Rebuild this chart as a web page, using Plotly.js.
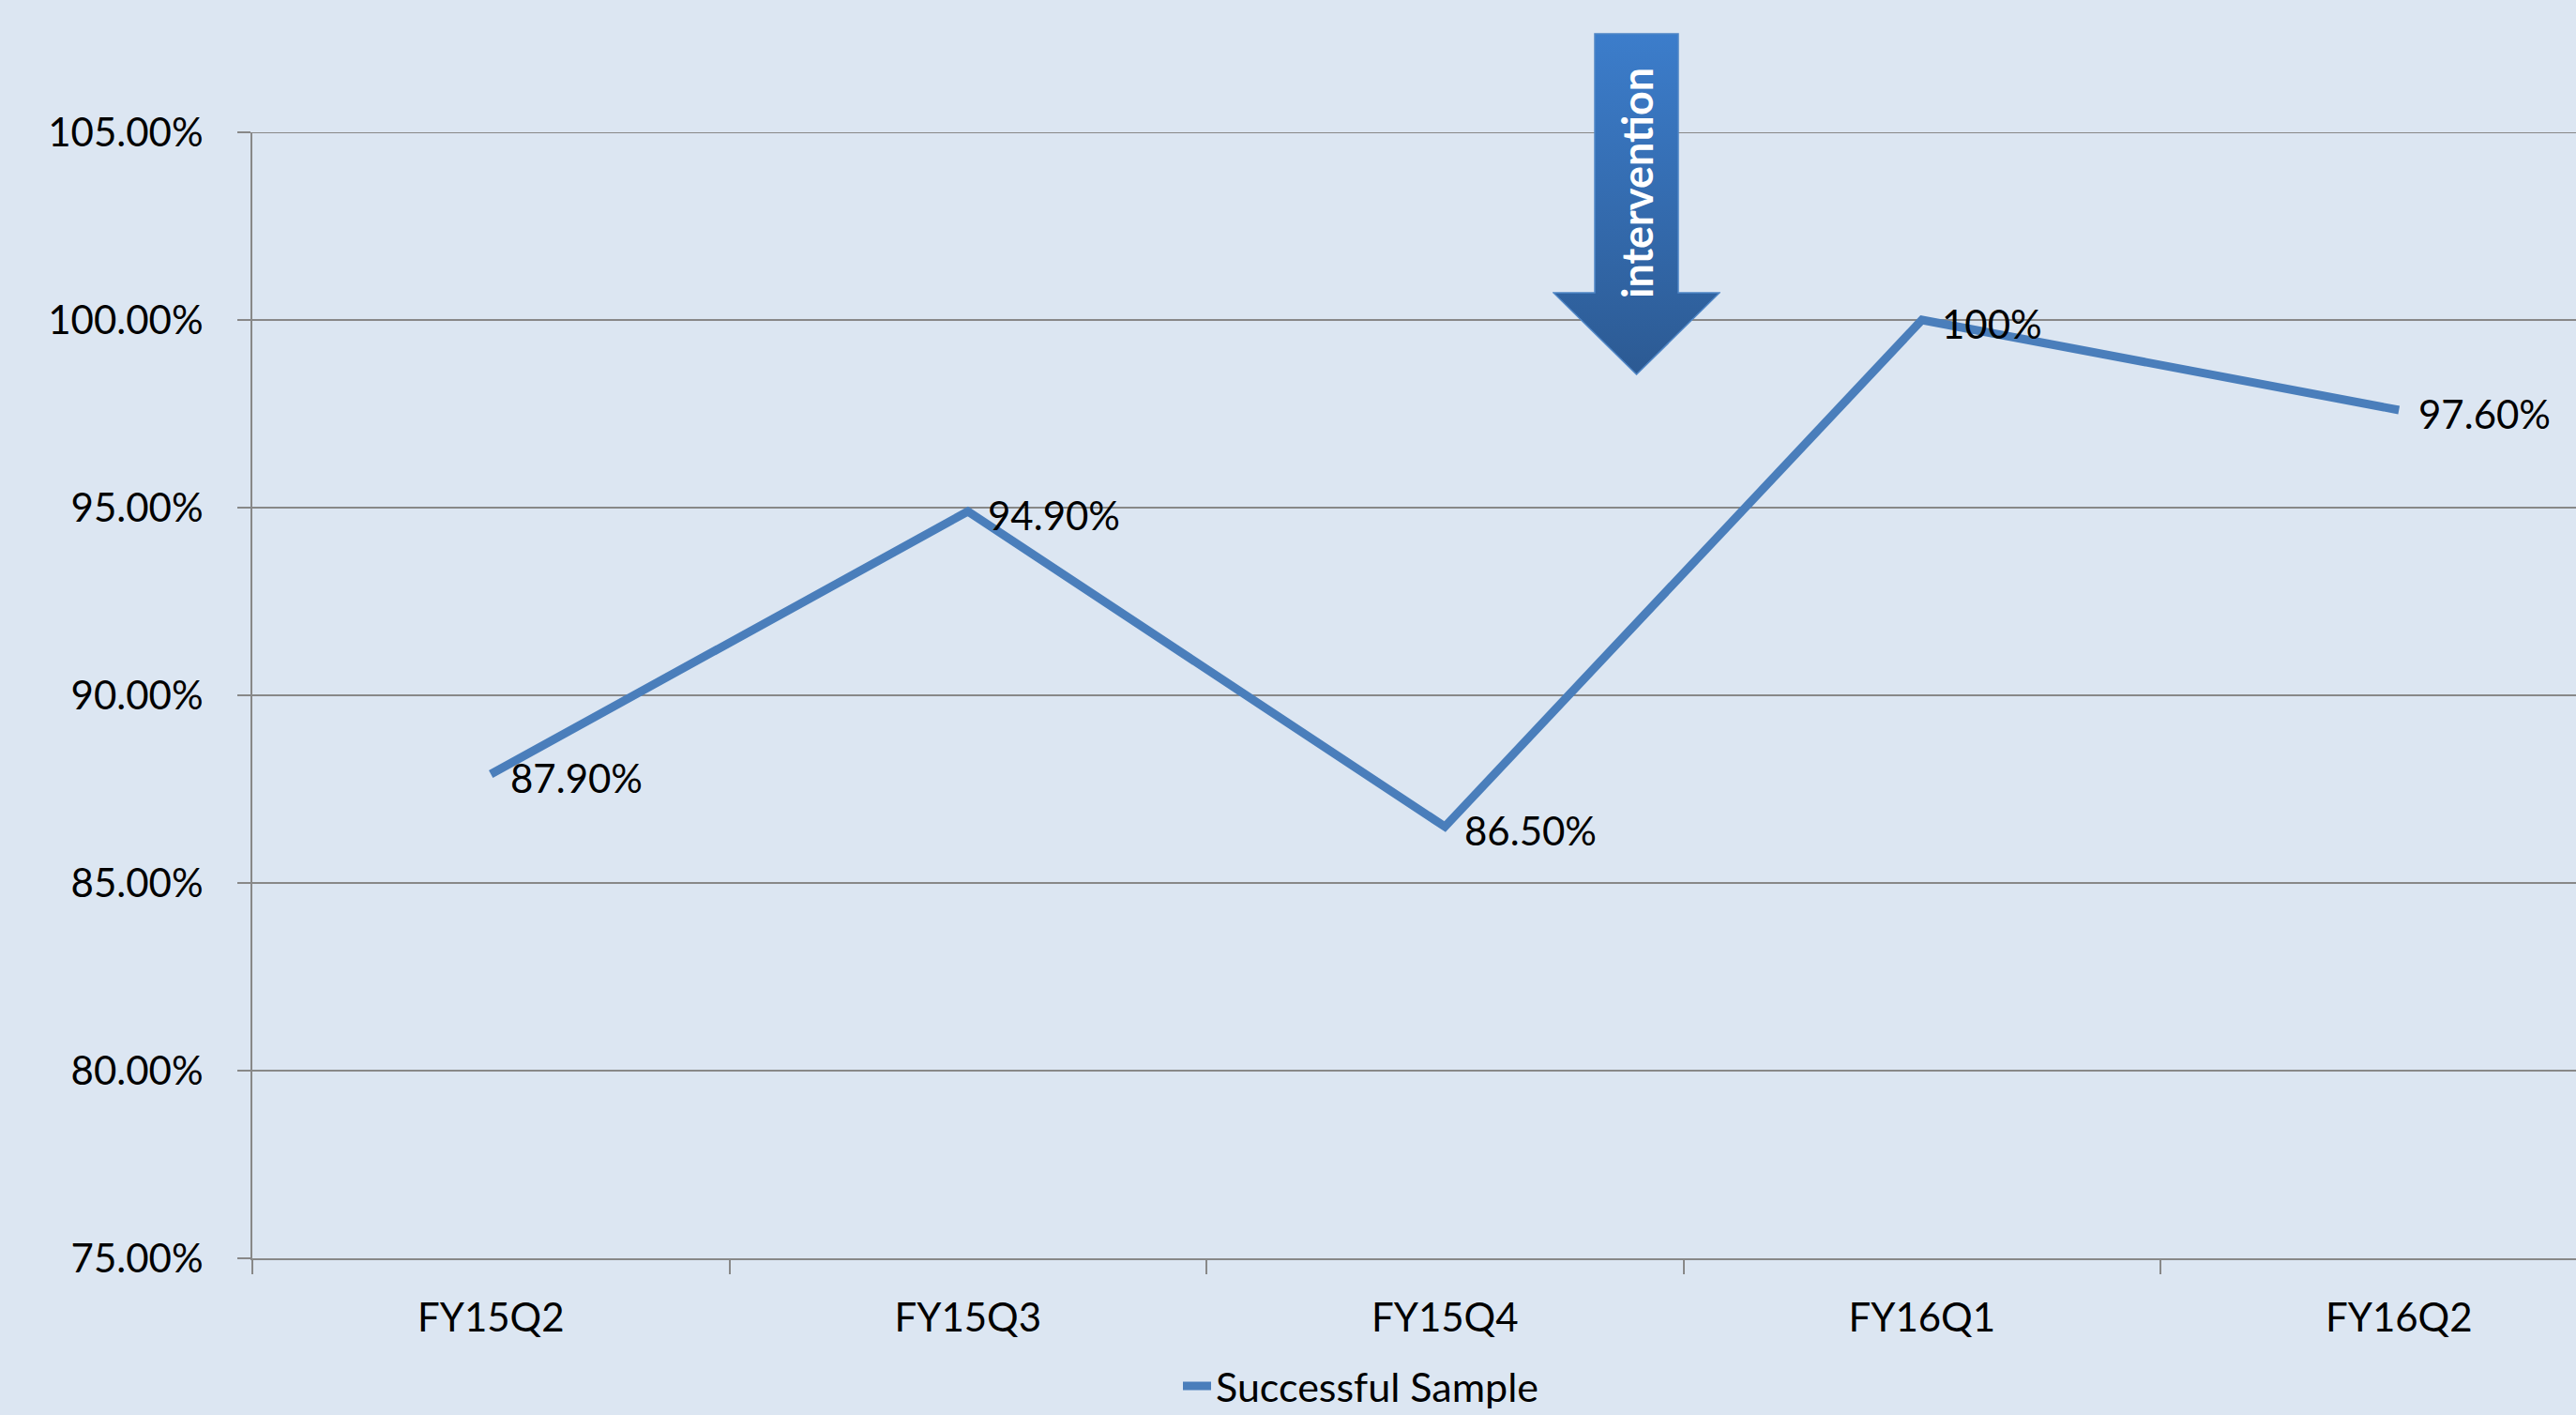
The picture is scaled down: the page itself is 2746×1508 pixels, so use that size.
<!DOCTYPE html>
<html>
<head>
<meta charset="utf-8">
<script src="https://cdn.plot.ly/plotly-3.0.1.min.js"></script>
<style>
  html, body { margin: 0; padding: 0; background: #DCE6F2; }
  #chart { width: 2746px; height: 1508px; }
</style>
</head>
<body>
<div id="chart"></div>
<script>
// ---- data ----
const categories = ['FY15Q2', 'FY15Q3', 'FY15Q4', 'FY16Q1', 'FY16Q2'];
const successRate = [87.9, 94.9, 86.5, 100, 97.6];
const dataLabels = ['87.90%', '94.90%', '86.50%', '100%', '97.60%'];
const seriesName = 'Successful Sample';
const markerText = 'intervention';

// ---- styles ----
const FONT = 'Lato, "Open Sans", "DejaVu Sans", sans-serif';
const BG = '#DCE6F2';
const GRID = '#888888';
const LINE = '#4A7EBB';

const W = 2746, H = 1508;
const plotL = 269, plotT = 141, plotB = 1341, plotR = W;
const px2paperX = px => (px - plotL) / (plotR - plotL);
const px2paperY = py => (plotB - py) / (plotB - plotT);

const trace = {
  type: 'scatter',
  mode: 'lines',
  x: categories,
  y: successRate,
  name: seriesName,
  line: { color: LINE, width: 9 },
  hoverinfo: 'x+y'
};

const labelAnnotations = categories.map((c, i) => ({
  x: c, y: successRate[i], xref: 'x', yref: 'y',
  text: dataLabels[i], showarrow: false,
  xanchor: 'left', yanchor: 'middle',
  xshift: 19, yshift: -4,
  font: { family: FONT, size: 42, color: '#000000' }
}));

// arrow graphic (decoration) as an inline SVG image with a vertical gradient
const arrowSvg =
  '<svg xmlns="http://www.w3.org/2000/svg" width="179" height="365" viewBox="0 0 179 365" preserveAspectRatio="none">' +
  '<defs><linearGradient id="g" x1="0" y1="0" x2="0" y2="1">' +
  '<stop offset="0" stop-color="#3C7DCB"/><stop offset="1" stop-color="#2C5A93"/>' +
  '</linearGradient></defs>' +
  '<path d="M45,1 L134,1 L134,277 L178,277 L89.5,364 L1,277 L45,277 Z" fill="url(#g)" stroke="#4F86C6" stroke-width="1.5"/>' +
  '</svg>';
const arrowSrc = 'data:image/svg+xml;charset=utf-8,' + encodeURIComponent(arrowSvg);

const layout = {
  width: W, height: H,
  paper_bgcolor: BG, plot_bgcolor: BG,
  margin: { l: plotL, r: 0, t: plotT, b: H - plotB, autoexpand: false },
  font: { family: FONT, size: 42, color: '#000000' },
  showlegend: true,
  legend: {
    orientation: 'h',
    x: px2paperX(1256), xanchor: 'left',
    y: px2paperY(1477), yanchor: 'middle',
    bgcolor: 'rgba(0,0,0,0)',
    font: { family: FONT, size: 43, color: '#000000' }
  },
  xaxis: {
    type: 'category',
    range: [-0.5, -0.5 + (plotR - plotL) / 508.5],
    showgrid: false, zeroline: false,
    showline: true, linecolor: GRID, linewidth: 2,
    ticks: 'outside', ticklen: 15, tickcolor: GRID, tickwidth: 2,
    tickson: 'boundaries',
    ticklabelstandoff: 26,
    tickfont: { family: FONT, size: 42, color: '#000000' },
    fixedrange: true
  },
  yaxis: {
    range: [75, 105],
    dtick: 5, tick0: 75,
    tickformat: '.2f', ticksuffix: '%',
    showgrid: true, gridcolor: GRID, gridwidth: 2,
    zeroline: false,
    showline: true, linecolor: GRID, linewidth: 2,
    ticks: 'outside', ticklen: 14, tickcolor: GRID, tickwidth: 2,
    ticklabelstandoff: 28,
    tickfont: { family: FONT, size: 42, color: '#000000' },
    fixedrange: true
  },
  images: [{
    source: arrowSrc,
    xref: 'paper', yref: 'paper',
    x: px2paperX(1655), y: px2paperY(35),
    sizex: 179 / (plotR - plotL), sizey: 365 / (plotB - plotT),
    xanchor: 'left', yanchor: 'top',
    sizing: 'stretch', layer: 'above'
  }],
  annotations: labelAnnotations.concat([{
    xref: 'paper', yref: 'paper',
    x: px2paperX(1745), y: px2paperY(195),
    text: markerText, showarrow: false, textangle: -90,
    xanchor: 'center', yanchor: 'middle',
    font: { family: FONT, size: 45, color: '#FFFFFF', weight: 'bold' }
  }]),
  shapes: [{
    type: 'line', xref: 'paper', yref: 'y',
    x0: 0, x1: 1, y0: 105, y1: 105,
    line: { color: GRID, width: 2 }, layer: 'below'
  }]
};

Plotly.newPlot('chart', [trace], layout, { displayModeBar: false, staticPlot: true });
</script>
</body>
</html>
